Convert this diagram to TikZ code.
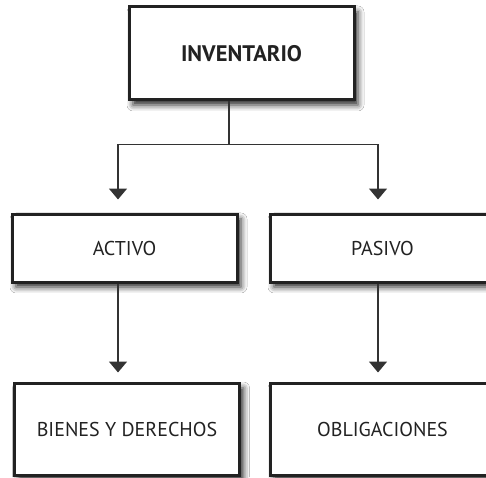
\documentclass[tikz,border=0pt]{standalone}
\usepackage{fontspec}
\setmainfont{PT Sans}
\usepackage{tikz}
\usetikzlibrary{positioning, arrows.meta, shadows.blur}
\definecolor{rand}{HTML}{222222}
\definecolor{linie}{HTML}{333333}

\tikzset{
    kasten/.style={draw=rand, line width=3pt, fill=white, minimum width=225pt,
        align=center, text=rand, font=\fontsize{20}{24}\selectfont,
        blur shadow={shadow xshift=4pt, shadow yshift=-5pt, shadow blur radius=6pt, shadow opacity=85}},
    pfeil/.style={draw=linie, line width=1.5pt, -{Triangle[width=18pt,length=11pt]}}
}

\begin{document}
\begin{tikzpicture}[x=1pt, y=1pt]
            % Rahmen
            \clip (0,0) rectangle (486,477);
            \fill[white] (0,0) rectangle (486,477);

            % Oberster Kasten
            \node[kasten, minimum height=93pt, font=\fontsize{22.5}{26}\selectfont\bfseries] (inv) at (241.5,423.5) {INVENTARIO};

            % Zweite Ebene
            \node[kasten, minimum height=68pt] (act) at (124.5,229) {ACTIVO};
            \node[kasten, minimum height=68pt] (pas) at (382.5,229) {PASIVO};

            % Dritte Ebene
            \node[kasten, minimum height=92pt] (bie) at (127,48) {BIENES Y DERECHOS};
            \node[kasten, minimum height=92pt] (obl) at (382.5,48) {OBLIGACIONES};

            % Verbindungen
            \draw[draw=linie, line width=1.5pt] ([xshift=-12.5pt]inv.south) -- ++(0,-43) coordinate (split);
            \draw[pfeil, shorten >=13pt] (split) -| ([xshift=-6.5pt]act.north);
            \draw[pfeil, shorten >=13pt] (split) -| ([xshift=-4.5pt]pas.north);

            \foreach \von/\nach/\dx in {act/bie/-6.5, pas/obl/-4.5} {
                \draw[pfeil, shorten >=9pt] ([xshift=\dx pt]\von.south) -- ([xshift=\dx pt]\von.south |- \nach.north);
            }
        \end{tikzpicture}
\end{document}
